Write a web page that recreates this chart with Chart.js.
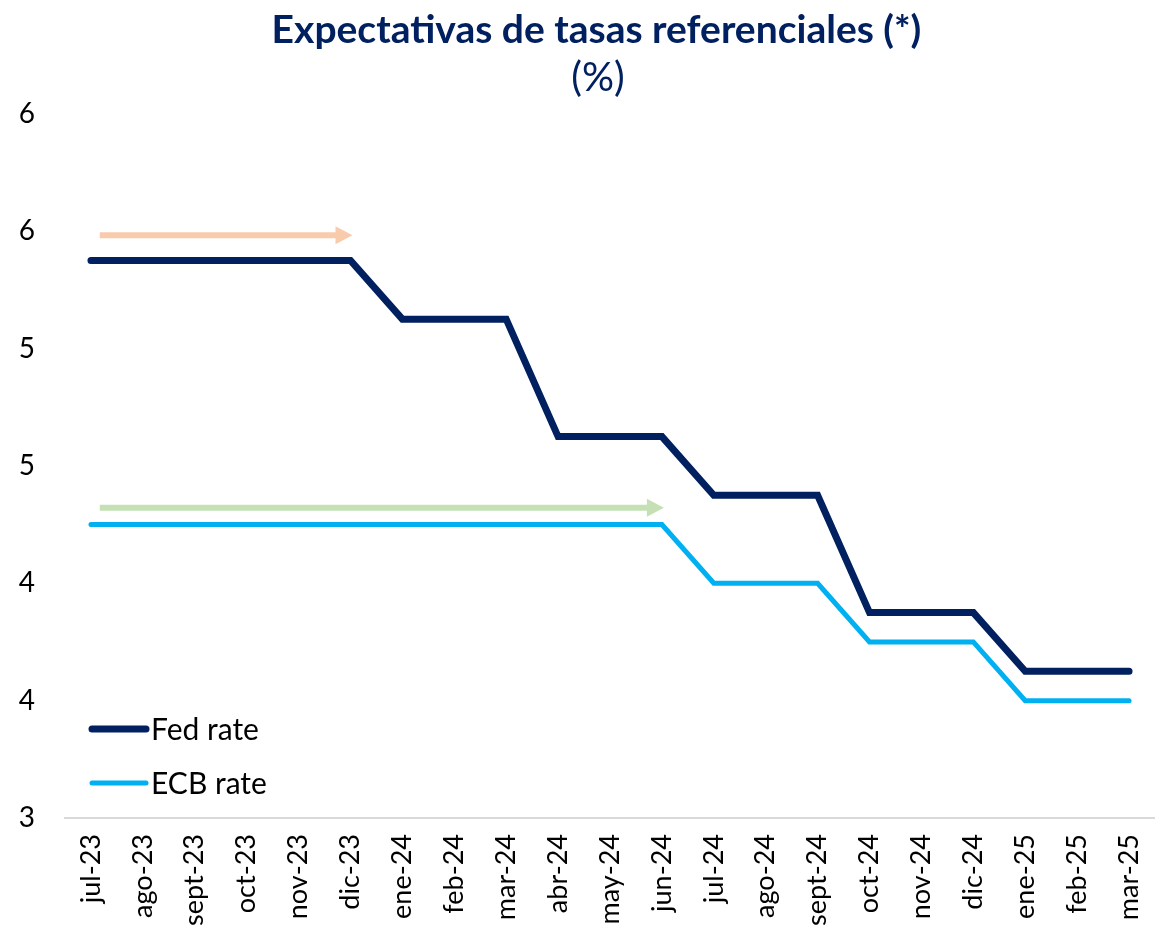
<!DOCTYPE html>
<html>
<head>
<meta charset="utf-8">
<script src="https://cdn.jsdelivr.net/npm/chart.js@4"></script>
<style>
  html, body { margin: 0; padding: 0; background: #fff; }
</style>
</head>
<body>
<canvas id="chart" width="1155" height="936"></canvas>
<script>
const months = ["jul-23", "ago-23", "sept-23", "oct-23", "nov-23", "dic-23",
  "ene-24", "feb-24", "mar-24", "abr-24", "may-24", "jun-24",
  "jul-24", "ago-24", "sept-24", "oct-24", "nov-24", "dic-24",
  "ene-25", "feb-25", "mar-25"];

const fedRate = [5.375, 5.375, 5.375, 5.375, 5.375, 5.375,
  5.125, 5.125, 5.125, 4.625, 4.625, 4.625,
  4.375, 4.375, 4.375, 3.875, 3.875, 3.875,
  3.625, 3.625, 3.625];

const ecbRate = [4.25, 4.25, 4.25, 4.25, 4.25, 4.25,
  4.25, 4.25, 4.25, 4.25, 4.25, 4.25,
  4.0, 4.0, 4.0, 3.75, 3.75, 3.75,
  3.5, 3.5, 3.5];

// arrows: start / end month index and level
const arrowFrom = [0.17, 0.17];
const arrowTo = [5, 11];
const arrowLevel = [5.483, 4.322];
const arrowColors = ["#F8CBAD", "#C5E0B4"];

const yTicks = [3, 3.5, 4, 4.5, 5, 5.5, 6];

const arrowPlugin = {
  id: "arrows",
  beforeDatasetsDraw(chart) {
    const ctx = chart.ctx;
    const xs = chart.scales.x, ys = chart.scales.y;
    arrowLevel.forEach((lvl, i) => {
      const x1 = xs.getPixelForValue(arrowFrom[i]);
      const x2 = xs.getPixelForValue(arrowTo[i]) + 2;
      const y = ys.getPixelForValue(lvl);
      ctx.save();
      ctx.strokeStyle = arrowColors[i];
      ctx.fillStyle = arrowColors[i];
      ctx.lineWidth = 6;
      ctx.beginPath();
      ctx.moveTo(x1, y);
      ctx.lineTo(x2 - 14, y);
      ctx.stroke();
      ctx.beginPath();
      ctx.moveTo(x2, y);
      ctx.lineTo(x2 - 17, y - 9);
      ctx.lineTo(x2 - 17, y + 9);
      ctx.closePath();
      ctx.fill();
      ctx.restore();
    });
  }
};

const legendPlugin = {
  id: "insideLegend",
  afterDraw(chart) {
    const ctx = chart.ctx;
    const area = chart.chartArea;
    ctx.save();
    chart.data.datasets.forEach((ds, i) => {
      const y = area.bottom - 89 + i * 54;
      const x = area.left + 27;
      ctx.strokeStyle = ds.borderColor;
      ctx.lineWidth = ds.borderWidth;
      ctx.lineCap = "round";
      ctx.beginPath();
      ctx.moveTo(x, y);
      ctx.lineTo(x + 54, y);
      ctx.stroke();
      ctx.fillStyle = "#000";
      ctx.font = "30px Lato";
      ctx.textBaseline = "middle";
      ctx.fillText(ds.label, x + 59, y + 1);
    });
    ctx.restore();
  }
};

const ctx = document.getElementById("chart").getContext("2d");
new Chart(ctx, {
  type: "line",
  data: {
    labels: months,
    datasets: [
      {
        label: "Fed rate",
        data: fedRate,
        borderColor: "#002060",
        borderWidth: 7,
        borderCapStyle: "round",
        pointRadius: 0,
        tension: 0
      },
      {
        label: "ECB rate",
        data: ecbRate,
        borderColor: "#00B0F0",
        borderWidth: 5,
        borderCapStyle: "round",
        pointRadius: 0,
        tension: 0
      }
    ]
  },
  options: {
    responsive: false,
    animation: false,
    layout: { padding: 0 },
    plugins: {
      legend: { display: false },
      tooltip: { enabled: false },
      title: {
        display: true,
        text: "    Expectativas de tasas referenciales (*)",
        color: "#002060",
        font: { family: "Lato", size: 39, weight: "bold", lineHeight: 1.2 },
        padding: { top: 7, bottom: 0 }
      },
      subtitle: {
        display: true,
        text: "    (%)",
        color: "#002060",
        font: { family: "Lato", size: 40, weight: "normal", lineHeight: 1.2 },
        padding: { top: 0, bottom: 12 }
      }
    },
    scales: {
      x: {
        offset: true,
        grid: { display: false, drawTicks: false },
        border: { display: true, color: "#D9D9D9", width: 2 },
        ticks: {
          color: "#000",
          font: { family: "Lato", size: 27 },
          minRotation: 90,
          maxRotation: 90,
          autoSkip: false,
          padding: 16
        },
        afterFit(scale) {
          scale.height = 118;
          scale.paddingLeft = 0;
          scale.paddingRight = 0;
        }
      },
      y: {
        min: 3,
        max: 6,
        grid: { display: false, drawTicks: false },
        border: { display: false },
        afterBuildTicks(scale) { scale.ticks = yTicks.map(v => ({ value: v })); },
        ticks: {
          color: "#000",
          font: { family: "Lato", size: 28 },
          padding: 30,
          callback: v => Math.round(v)
        },
        afterFit(scale) { scale.width = 65; }
      }
    }
  },
  plugins: [arrowPlugin, legendPlugin]
});
</script>
</body>
</html>
